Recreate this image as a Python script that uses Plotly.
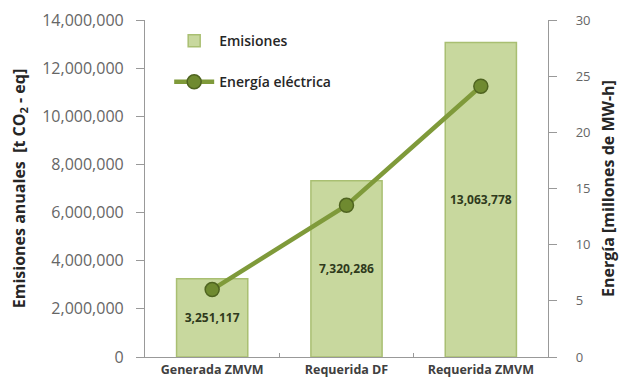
import plotly.graph_objects as go

categories = ["Generada ZMVM", "Requerida DF", "Requerida ZMVM"]
emisiones = [3251117, 7320286, 13063778]
energia = [6.0, 13.5, 24.1]
emis_labels = ["3,251,117", "7,320,286", "13,063,778"]
left_ticks = [0, 2000000, 4000000, 6000000, 8000000, 10000000, 12000000, 14000000]
right_ticks = [0, 5, 10, 15, 20, 25, 30]

FONT = "Open Sans"

fig = go.Figure()
fig.add_trace(go.Bar(
    x=categories, y=emisiones, name="Emisiones",
    marker=dict(color="#c8d89e", line=dict(color="#a9bf72", width=1.5)),
    text=emis_labels, textposition="inside", insidetextanchor="middle",
    textangle=0,
    textfont=dict(family=FONT, size=12, color="#2f3a1c", weight="bold"),
    width=0.53, legendgroup="a",
))
fig.add_trace(go.Scatter(
    x=categories, y=energia, name="Energía eléctrica", yaxis="y2",
    mode="lines+markers",
    line=dict(color="#7f9a3a", width=4.5),
    marker=dict(size=14, color="#6f8a30", line=dict(color="#4f6420", width=1.5)),
    legendgroup="b",
))

fig.update_layout(
    width=619, height=383,
    margin=dict(l=145, r=71, t=20, b=26),
    paper_bgcolor="white", plot_bgcolor="white",
    font=dict(family=FONT, color="#595959"),
    showlegend=True,
    legend=dict(x=0.06, y=0.985, xanchor="left", yanchor="top",
                bgcolor="rgba(0,0,0,0)", tracegroupgap=20,
                font=dict(family=FONT, size=14, color="#262626", weight=600),
                itemwidth=40),
    xaxis=dict(showline=True, linecolor="#999999", linewidth=1.2,
               ticks="inside", ticklen=4, tickcolor="#999999", tickson="boundaries",
               ticklabelstandoff=1, automargin=False,
               tickfont=dict(family=FONT, size=12.5, color="#404040", weight="bold"),
               showgrid=False),
    yaxis=dict(range=[0, 14000000], tickvals=left_ticks, tickformat=",",
               showline=True, linecolor="#999999", linewidth=1.2,
               ticks="outside", ticklen=8, tickcolor="#999999",
               ticklabelstandoff=9, automargin=False,
               tickfont=dict(family=FONT, size=16, color="#666666"),
               showgrid=False, zeroline=False,
               title=dict(text="<b>Emisiones anuales  [t CO<sub>2</sub> - eq]</b>",
                          font=dict(family=FONT, size=16, color="#262626"), standoff=12)),
    yaxis2=dict(range=[0, 30], tickvals=right_ticks, overlaying="y", side="right",
                showline=True, linecolor="#999999", linewidth=1.2,
                ticks="outside", ticklen=8, tickcolor="#999999",
                ticklabelstandoff=16, automargin=False,
                tickfont=dict(family=FONT, size=13, color="#666666"),
                showgrid=False, zeroline=False,
                title=dict(text="<b>Energía [millones de MW-h]</b>",
                           font=dict(family=FONT, size=16, color="#262626"), standoff=20)),
)

fig.write_html("out.html")
